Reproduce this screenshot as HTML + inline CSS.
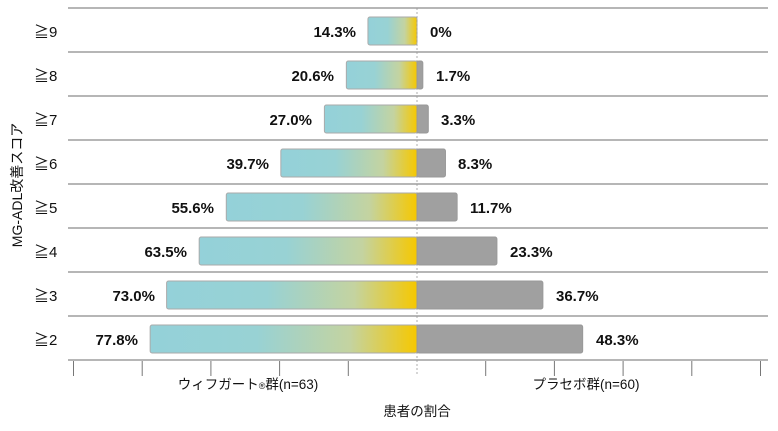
<!DOCTYPE html><html><head><meta charset="utf-8"><style>
body{margin:0;width:778px;height:426px;background:#fff;overflow:hidden}
</style></head><body>
<svg width="778" height="426" xmlns="http://www.w3.org/2000/svg" font-family="Liberation Sans, Noto Sans CJK JP, sans-serif">
<defs><linearGradient id="g" x1="0" x2="1" y1="0" y2="0"><stop offset="0" stop-color="#94d1d9"/><stop offset="0.4" stop-color="#98d2d4"/><stop offset="0.75" stop-color="#c4d3a0"/><stop offset="1" stop-color="#f6c800"/></linearGradient></defs>
<g stroke="#8a8a8a" stroke-width="1.3">
<line x1="68" x2="768" y1="8" y2="8"/><line x1="68" x2="768" y1="52" y2="52"/><line x1="68" x2="768" y1="96" y2="96"/><line x1="68" x2="768" y1="140" y2="140"/><line x1="68" x2="768" y1="184" y2="184"/><line x1="68" x2="768" y1="228" y2="228"/><line x1="68" x2="768" y1="272" y2="272"/><line x1="68" x2="768" y1="316" y2="316"/><line x1="68" x2="768" y1="360" y2="360"/>
</g>
<g stroke="#aaa" stroke-width="1" fill="url(#g)">
<rect x="367.95" y="17" width="49.05" height="28" rx="2"/>
<rect x="346.34" y="61" width="70.66" height="28" rx="2"/>
<rect x="324.39" y="105" width="92.61" height="28" rx="2"/>
<rect x="280.83" y="149" width="136.17" height="28" rx="2"/>
<rect x="226.29" y="193" width="190.71" height="28" rx="2"/>
<rect x="199.19" y="237" width="217.81" height="28" rx="2"/>
<rect x="166.61" y="281" width="250.39" height="28" rx="2"/>
<rect x="150.15" y="325" width="266.85" height="28" rx="2"/>
</g>
<g stroke="#999" stroke-width="1" fill="#a0a0a0">
<rect x="417" y="61" width="5.83" height="28" rx="2"/>
<rect x="417" y="105" width="11.32" height="28" rx="2"/>
<rect x="417" y="149" width="28.47" height="28" rx="2"/>
<rect x="417" y="193" width="40.13" height="28" rx="2"/>
<rect x="417" y="237" width="79.92" height="28" rx="2"/>
<rect x="417" y="281" width="125.88" height="28" rx="2"/>
<rect x="417" y="325" width="165.67" height="28" rx="2"/>
</g>
<line x1="417" x2="417" y1="8" y2="376" stroke="#999" stroke-dasharray="2,2" stroke-width="0.8"/>
<g stroke="#777">
<line x1="73.5" x2="73.5" y1="361" y2="376"/><line x1="142.2" x2="142.2" y1="361" y2="376"/><line x1="210.9" x2="210.9" y1="361" y2="376"/><line x1="279.6" x2="279.6" y1="361" y2="376"/><line x1="348.3" x2="348.3" y1="361" y2="376"/><line x1="485.7" x2="485.7" y1="361" y2="376"/><line x1="554.4" x2="554.4" y1="361" y2="376"/><line x1="623.1" x2="623.1" y1="361" y2="376"/><line x1="691.8" x2="691.8" y1="361" y2="376"/><line x1="760.5" x2="760.5" y1="361" y2="376"/>
</g>
<g font-size="15" font-weight="bold" fill="#111" text-anchor="end">
<text x="356" y="37">14.3%</text><text x="334" y="81">20.6%</text><text x="312" y="125">27.0%</text><text x="269" y="169">39.7%</text><text x="214" y="213">55.6%</text><text x="187" y="257">63.5%</text><text x="155" y="301">73.0%</text><text x="138" y="345">77.8%</text>
</g>
<g font-size="15" font-weight="bold" fill="#111">
<text x="430" y="37">0%</text><text x="436" y="81">1.7%</text><text x="441" y="125">3.3%</text><text x="458" y="169">8.3%</text><text x="470" y="213">11.7%</text><text x="510" y="257">23.3%</text><text x="556" y="301">36.7%</text><text x="596" y="345">48.3%</text>
</g>
<g font-size="15" fill="#111">
<text x="34" y="37">≧9</text><text x="34" y="81">≧8</text><text x="34" y="125">≧7</text><text x="34" y="169">≧6</text><text x="34" y="213">≧5</text><text x="34" y="257">≧4</text><text x="34" y="301">≧3</text><text x="34" y="345">≧2</text>
</g>
<text x="248" y="389" text-anchor="middle" font-size="13.5" fill="#111">ウィフガート<tspan font-size="9">®</tspan>群(n=63)</text>
<text x="586" y="389" text-anchor="middle" font-size="13.5" fill="#111">プラセボ群(n=60)</text>
<text x="417" y="416" text-anchor="middle" font-size="13.5" fill="#111">患者の割合</text>
<text transform="translate(22,185) rotate(-90)" text-anchor="middle" font-size="14" fill="#111">MG-ADL改善スコア</text>
</svg></body></html>
